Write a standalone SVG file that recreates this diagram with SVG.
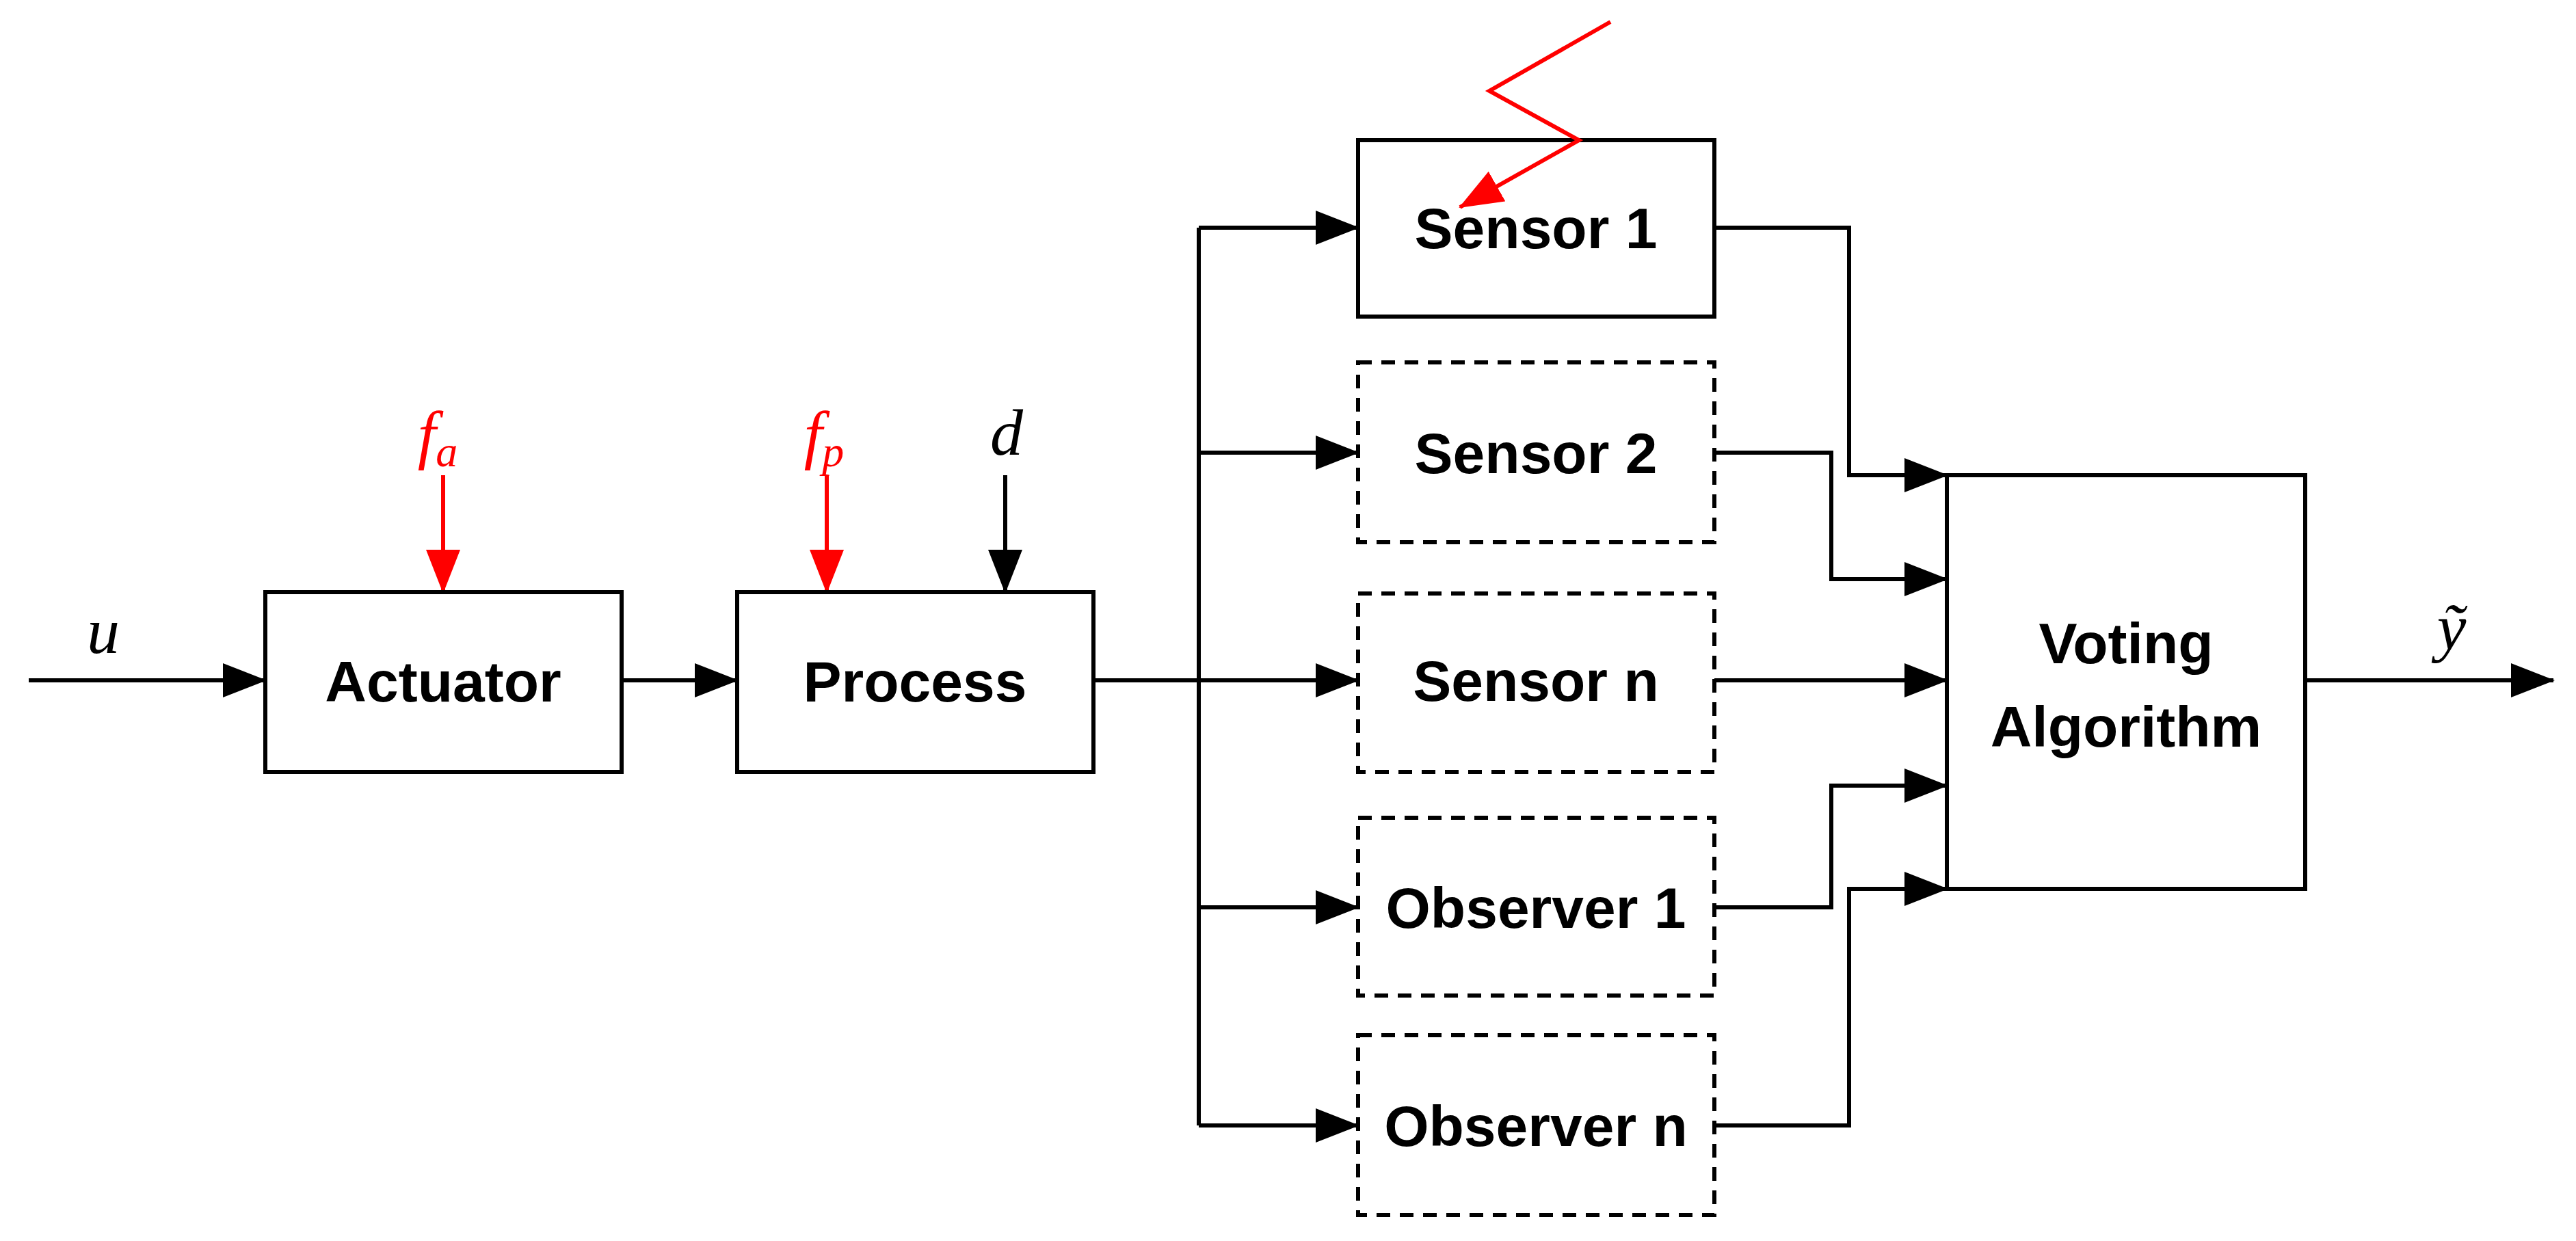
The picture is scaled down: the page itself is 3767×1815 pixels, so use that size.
<svg xmlns="http://www.w3.org/2000/svg" width="3767" height="1815" viewBox="0 0 3767 1815">
<style>
.b{fill:#fff;stroke:#000;stroke-width:6}
.d{fill:#fff;stroke:#000;stroke-width:6;stroke-dasharray:20 14}
.t{font-family:"Liberation Sans",Arial,sans-serif;font-weight:bold;font-size:84px;text-anchor:middle;fill:#000}
.m{font-family:"Liberation Serif","DejaVu Serif",serif;font-style:italic;font-size:96px;text-anchor:middle}
.c{fill:none;stroke:#000;stroke-width:6}
.r{fill:none;stroke:#f00;stroke-width:6}
</style>
<defs>
<marker id="a" markerUnits="userSpaceOnUse" markerWidth="64" markerHeight="50" refX="62" refY="25" orient="auto"><path d="M0,0 L64,25 L0,50 Z" fill="#000"/></marker>
<marker id="ar" markerUnits="userSpaceOnUse" markerWidth="64" markerHeight="50" refX="62" refY="25" orient="auto"><path d="M0,0 L64,25 L0,50 Z" fill="#f00"/></marker>
</defs>
<rect width="3767" height="1815" fill="#fff"/>
<g id="connectors">
<path class="c" d="M42,995 H388" marker-end="url(#a)"/>
<path class="c" d="M909,995 H1078" marker-end="url(#a)"/>
<path class="r" d="M648,695 V866" marker-end="url(#ar)"/>
<path class="r" d="M1209,695 V866" marker-end="url(#ar)"/>
<path class="c" d="M1470,695 V866" marker-end="url(#a)"/>
<path class="c" d="M1599,995 H1753"/>
<path class="c" d="M1753,333 V1646"/>
<path class="c" d="M1753,333 H1986" marker-end="url(#a)"/>
<path class="c" d="M1753,662 H1986" marker-end="url(#a)"/>
<path class="c" d="M1753,995 H1986" marker-end="url(#a)"/>
<path class="c" d="M1753,1327 H1986" marker-end="url(#a)"/>
<path class="c" d="M1753,1646 H1986" marker-end="url(#a)"/>
<path class="c" d="M2507,333 H2704 V695 H2847" marker-end="url(#a)"/>
<path class="c" d="M2507,662 H2678 V847 H2847" marker-end="url(#a)"/>
<path class="c" d="M2507,995 H2847" marker-end="url(#a)"/>
<path class="c" d="M2507,1327 H2678 V1149 H2847" marker-end="url(#a)"/>
<path class="c" d="M2507,1646 H2704 V1300 H2847" marker-end="url(#a)"/>
<path class="c" d="M3371,995 H3734" marker-end="url(#a)"/>
</g>
<g id="actuator"><rect class="b" x="388" y="866" width="521" height="263"/><text class="t" x="648" y="1026">Actuator</text></g>
<g id="process"><rect class="b" x="1078" y="866" width="521" height="263"/><text class="t" x="1338" y="1026">Process</text></g>
<g id="sensor1"><rect class="b" x="1986" y="205" width="521" height="258"/><text class="t" x="2246" y="363">Sensor 1</text></g>
<g id="sensor2"><rect class="d" x="1986" y="530" width="521" height="263"/><text class="t" x="2246" y="692">Sensor 2</text></g>
<g id="sensorn"><rect class="d" x="1986" y="868" width="521" height="261"/><text class="t" x="2246" y="1025">Sensor n</text></g>
<g id="observer1"><rect class="d" x="1986" y="1196" width="521" height="260"/><text class="t" x="2246" y="1357">Observer 1</text></g>
<g id="observern"><rect class="d" x="1986" y="1514" width="521" height="263"/><text class="t" x="2246" y="1676">Observer n</text></g>
<g id="voting"><rect class="b" x="2847" y="695" width="524" height="605"/><text class="t" x="3109" y="970">Voting</text><text class="t" x="3109" y="1092">Algorithm</text></g>
<g id="fault-sensor"><path class="r" d="M2355,32 L2178,133 L2309,205 L2135,303" marker-end="url(#ar)"/></g>
<g id="labels">
<text class="m" x="151" y="955">u</text>
<text class="m" x="640" y="668" fill="#f00">f<tspan font-size="64" dy="14">a</tspan></text>
<text class="m" x="1205" y="668" fill="#f00">f<tspan font-size="64" dy="14">p</tspan></text>
<text class="m" x="1472" y="665">d</text>
<text class="m" x="3585" y="950">ỹ</text>
</g>
</svg>
